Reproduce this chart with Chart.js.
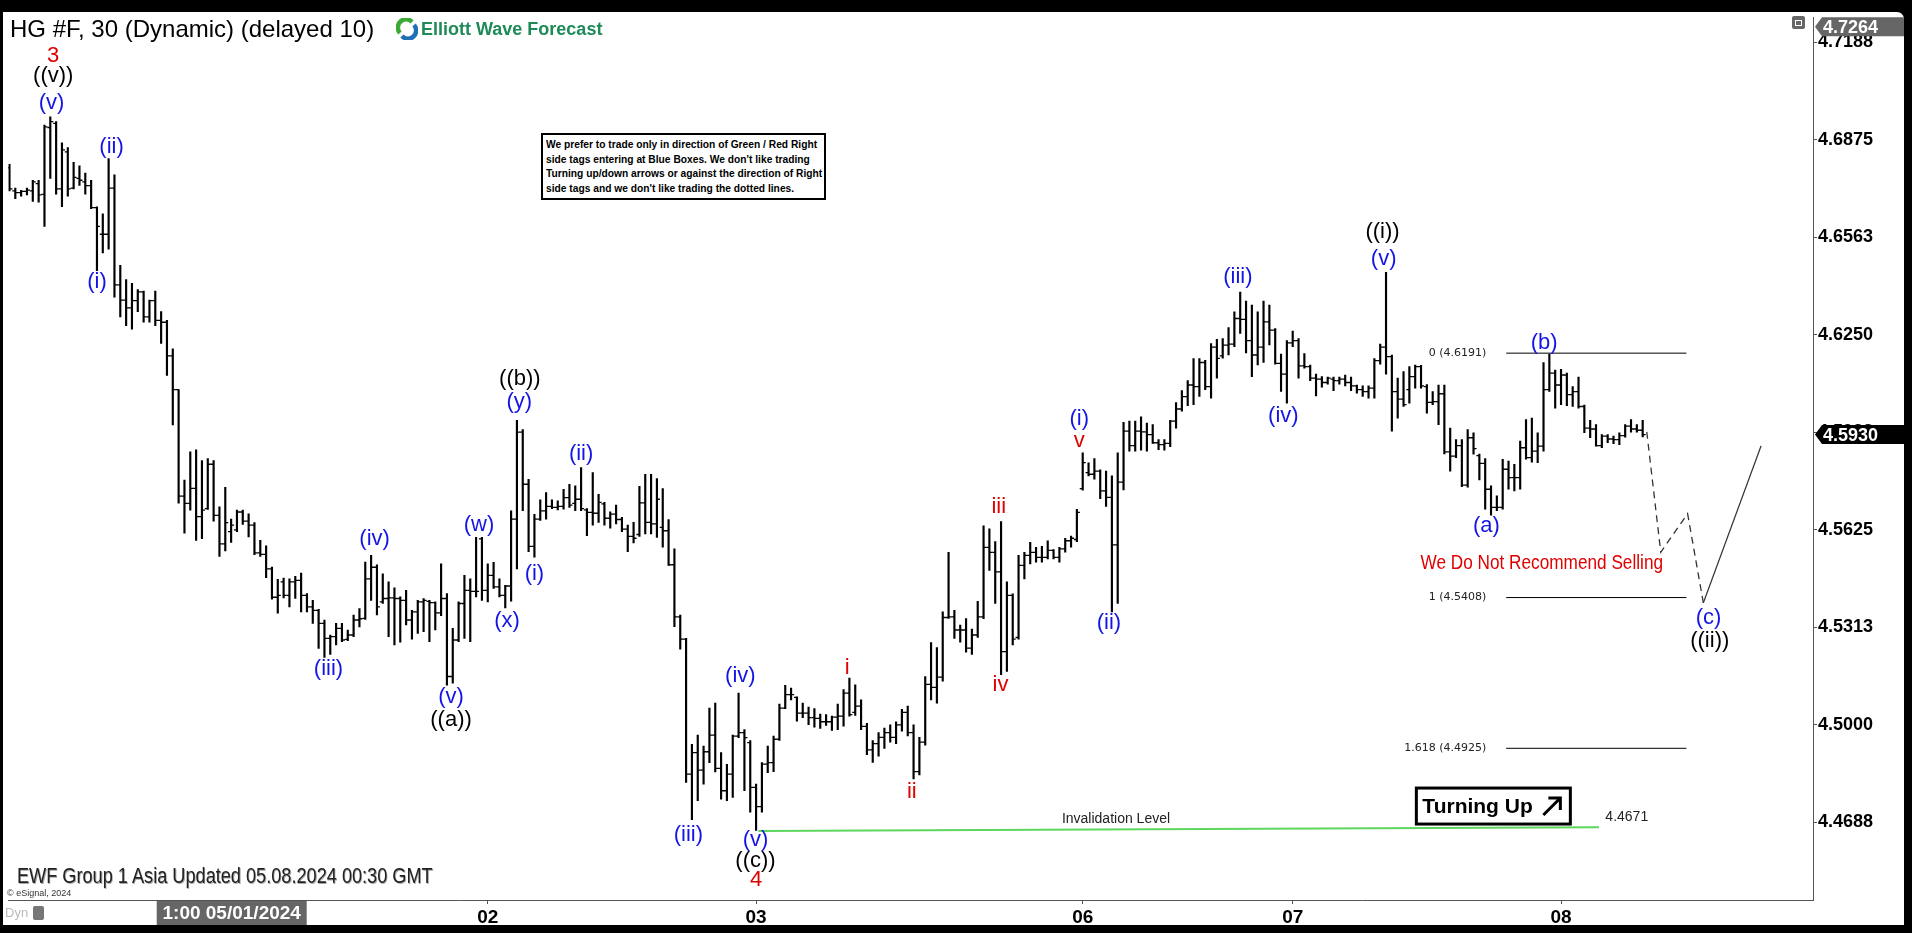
<!DOCTYPE html>
<html>
<head>
<meta charset="utf-8">
<script src="https://cdn.jsdelivr.net/npm/chart.js@4.4.1/dist/chart.umd.min.js"></script>
<style>
  html, body { margin: 0; padding: 0; background: #000; }
  body { width: 1912px; height: 933px; position: relative; overflow: hidden; font-family: "Liberation Sans", Arial, sans-serif; }
  #panel { position: absolute; left: 3px; top: 12px; width: 1901px; height: 913px; background: #fff; border-radius: 0 7px 0 0; overflow: hidden; }
  #price-chart { position: absolute; left: 0; top: 0; }
  .ov { position: absolute; white-space: nowrap; }
  .narrow { display: inline-block; transform-origin: 0 0; }
  #title { left: 7px; top: 3px; font-size: 24px; color: #000; }
  #logo { left: 393px; top: 6px; width: 22px; height: 22px; }
  #brand { left: 418px; top: 7px; font-size: 18px; font-weight: bold; color: #1e8a57; }
  #note { left: 538px; top: 121px; width: 275px; height: 59px; border: 2px solid #000; background: #fff;
          padding: 2px 3px; font: bold 11.5px/14.5px "Liberation Sans", Arial, sans-serif; color: #000; overflow: hidden; }
  #note .narrow { transform: scaleX(0.89); }
  #footer { left: 14px; top: 851px; font-size: 22px; color: #222; text-shadow: 1px 1px 0 #aaa; }
  #footer .narrow { transform: scaleX(0.825); }
  #copy { left: 4px; top: 876px; font-size: 9px; color: #333; }
  #dyn { left: 2px; top: 893px; font-size: 13px; color: #bbb; }
  #lock { left: 30px; top: 894px; width: 11px; height: 14px; background: #777; border-radius: 2px; }
  #restore { left: 1789px; top: 4px; width: 13px; height: 13px; background: #666; border-radius: 2px; }
  #restore:after { content: ""; position: absolute; left: 3px; top: 4px; width: 5px; height: 4px; border: 1px solid #fff; }
</style>
</head>
<body>
<div id="panel">
  <canvas id="price-chart" width="1901" height="913"></canvas>
  <div class="ov" id="title">HG #F, 30 (Dynamic) (delayed 10)</div>
  <svg class="ov" id="logo" viewBox="0 0 22 22">
    <path d="M4 15 A8 8 0 0 1 16 4" stroke="#3aa935" stroke-width="4.5" fill="none"/>
    <path d="M18 7 A8 8 0 0 1 6 18" stroke="#1f6fb5" stroke-width="4.5" fill="none"/>
  </svg>
  <div class="ov" id="brand">Elliott Wave Forecast</div>
  <div class="ov" id="note"><span class="narrow">We prefer to trade only in direction of Green / Red Right<br>side tags entering at Blue Boxes. We don't like trading<br>Turning up/down arrows or against the direction of Right<br>side tags and we don't like trading the dotted lines.</span></div>
  <div class="ov" id="footer"><span class="narrow">EWF Group 1 Asia Updated 05.08.2024 00:30 GMT</span></div>
  <div class="ov" id="copy">© eSignal, 2024</div>
  <div class="ov" id="dyn">Dyn</div>
  <div class="ov" id="lock"></div>
  <div class="ov" id="restore"></div>
</div>
<script>
// HG #F 30 min bars, 30 Apr 06:00 -> 08 May 07:30 (GMT+8)
const opens = [
  4.6785, 4.6711, 4.6705, 4.6709, 4.6711, 4.6734, 4.6700, 4.6914, 4.6927, 4.6717,
  4.6836, 4.6720, 4.6751, 4.6740, 4.6728, 4.6657, 4.6572, 4.6572, 4.6720, 4.6410,
  4.6361, 4.6336, 4.6359, 4.6387, 4.6307, 4.6359, 4.6296, 4.6290, 4.6182, 4.6074,
  4.5733, 4.5710, 4.5758, 4.5667, 4.5693, 4.5835, 4.5671, 4.5580, 4.5619, 4.5625,
  4.5682, 4.5653, 4.5640, 4.5551, 4.5546, 4.5500, 4.5409, 4.5458, 4.5415, 4.5458,
  4.5463, 4.5415, 4.5378, 4.5367, 4.5325, 4.5277, 4.5283, 4.5309, 4.5274, 4.5288,
  4.5336, 4.5341, 4.5468, 4.5505, 4.5394, 4.5405, 4.5407, 4.5405, 4.5399, 4.5336,
  4.5362, 4.5394, 4.5396, 4.5392, 4.5359, 4.5405, 4.5155, 4.5272, 4.5389, 4.5431,
  4.5428, 4.5596, 4.5431, 4.5479, 4.5442, 4.5415, 4.5445, 4.5659, 4.5938, 4.5771,
  4.5572, 4.5659, 4.5686, 4.5700, 4.5697, 4.5700, 4.5728, 4.5710, 4.5723, 4.5689,
  4.5681, 4.5678, 4.5708, 4.5662, 4.5675, 4.5658, 4.5627, 4.5604, 4.5610, 4.5711,
  4.5649, 4.5644, 4.5633, 4.5622, 4.5513, 4.5346, 4.5275, 4.4842, 4.4911, 4.4855,
  4.4914, 4.4967, 4.4861, 4.4789, 4.4842, 4.4964, 4.4975, 4.4943, 4.4800, 4.4738,
  4.4874, 4.4879, 4.4954, 4.5054, 4.5097, 4.5088, 4.5038, 4.5038, 4.5023, 4.5021,
  4.5010, 4.5010, 4.5025, 4.5028, 4.5102, 4.5040, 4.5060, 4.4995, 4.4920, 4.4940,
  4.4960, 4.4975, 4.4960, 4.5000, 4.5040, 4.4975, 4.4850, 4.4945, 4.5130, 4.5120,
  4.5153, 4.5344, 4.5346, 4.5304, 4.5304, 4.5246, 4.5288, 4.5346, 4.5569, 4.5553,
  4.5490, 4.5235, 4.5415, 4.5280, 4.5511, 4.5543, 4.5553, 4.5537, 4.5537, 4.5559,
  4.5537, 4.5564, 4.5590, 4.5594, 4.5757, 4.5808, 4.5803, 4.5813, 4.5750, 4.5729,
  4.5577, 4.5778, 4.5941, 4.5895, 4.5941, 4.5939, 4.5930, 4.5904, 4.5898, 4.5902,
  4.5973, 4.6012, 4.6052, 4.6089, 4.6084, 4.6161, 4.6084, 4.6210, 4.6182, 4.6217,
  4.6220, 4.6302, 4.6299, 4.6231, 4.6185, 4.6210, 4.6291, 4.6265, 4.6158, 4.6124,
  4.6224, 4.6231, 4.6150, 4.6148, 4.6111, 4.6108, 4.6097, 4.6108, 4.6103, 4.6108,
  4.6097, 4.6086, 4.6074, 4.6068, 4.6079, 4.6167, 4.6210, 4.6180, 4.6068, 4.6044,
  4.6074, 4.6116, 4.6148, 4.6084, 4.6033, 4.6036, 4.6061, 4.5875, 4.5861, 4.5895,
  4.5768, 4.5920, 4.5863, 4.5838, 4.5755, 4.5697, 4.5697, 4.5819, 4.5792, 4.5792,
  4.5888, 4.5856, 4.5877, 4.5893, 4.6074, 4.6127, 4.6089, 4.6121, 4.6058, 4.6068,
  4.6020, 4.5951, 4.5948, 4.5895, 4.5925, 4.5916, 4.5914, 4.5927, 4.5957, 4.5948,
  4.5944
];
const highs = [
  4.6796, 4.6720, 4.6713, 4.6720, 4.6745, 4.6745, 4.6922, 4.6948, 4.6933, 4.6865,
  4.6850, 4.6802, 4.6791, 4.6768, 4.6745, 4.6660, 4.6637, 4.6814, 4.6762, 4.6472,
  4.6427, 4.6415, 4.6395, 4.6390, 4.6361, 4.6390, 4.6324, 4.6296, 4.6205, 4.6074,
  4.5784, 4.5875, 4.5881, 4.5847, 4.5853, 4.5847, 4.5699, 4.5761, 4.5659, 4.5688,
  4.5688, 4.5676, 4.5648, 4.5591, 4.5574, 4.5506, 4.5466, 4.5470, 4.5468, 4.5476,
  4.5486, 4.5421, 4.5399, 4.5370, 4.5336, 4.5288, 4.5325, 4.5325, 4.5304, 4.5352,
  4.5373, 4.5522, 4.5543, 4.5513, 4.5484, 4.5458, 4.5439, 4.5410, 4.5431, 4.5367,
  4.5399, 4.5405, 4.5399, 4.5394, 4.5516, 4.5421, 4.5309, 4.5394, 4.5479, 4.5468,
  4.5601, 4.5601, 4.5516, 4.5521, 4.5468, 4.5447, 4.5686, 4.5976, 4.5946, 4.5787,
  4.5675, 4.5721, 4.5744, 4.5721, 4.5718, 4.5755, 4.5771, 4.5766, 4.5824, 4.5693,
  4.5808, 4.5739, 4.5713, 4.5683, 4.5704, 4.5665, 4.5640, 4.5649, 4.5764, 4.5803,
  4.5803, 4.5789, 4.5757, 4.5658, 4.5564, 4.5352, 4.5277, 4.4938, 4.4967, 4.4932,
  4.5054, 4.5070, 4.4911, 4.4874, 4.4967, 4.5102, 4.4985, 4.4950, 4.4810, 4.4879,
  4.4932, 4.4964, 4.5067, 4.5127, 4.5118, 4.5090, 4.5070, 4.5057, 4.5052, 4.5035,
  4.5033, 4.5028, 4.5067, 4.5113, 4.5150, 4.5128, 4.5080, 4.5005, 4.4950, 4.4975,
  4.4990, 4.5000, 4.5010, 4.5050, 4.5060, 4.5000, 4.4960, 4.5155, 4.5264, 4.5248,
  4.5362, 4.5553, 4.5367, 4.5320, 4.5341, 4.5307, 4.5396, 4.5638, 4.5628, 4.5587,
  4.5651, 4.5458, 4.5420, 4.5543, 4.5553, 4.5585, 4.5569, 4.5572, 4.5590, 4.5562,
  4.5569, 4.5598, 4.5605, 4.5691, 4.5872, 4.5840, 4.5853, 4.5817, 4.5813, 4.5798,
  4.5872, 4.5969, 4.5973, 4.5973, 4.5987, 4.5967, 4.5962, 4.5914, 4.5914, 4.5976,
  4.6033, 4.6071, 4.6103, 4.6174, 4.6174, 4.6168, 4.6222, 4.6235, 4.6238, 4.6273,
  4.6323, 4.6387, 4.6358, 4.6345, 4.6323, 4.6358, 4.6345, 4.6270, 4.6188, 4.6231,
  4.6262, 4.6238, 4.6190, 4.6153, 4.6124, 4.6116, 4.6114, 4.6114, 4.6114, 4.6121,
  4.6114, 4.6089, 4.6086, 4.6086, 4.6174, 4.6220, 4.6450, 4.6185, 4.6111, 4.6132,
  4.6148, 4.6153, 4.6152, 4.6090, 4.6068, 4.6089, 4.6089, 4.5951, 4.5914, 4.5914,
  4.5946, 4.5936, 4.5868, 4.5853, 4.5766, 4.5734, 4.5851, 4.5845, 4.5835, 4.5909,
  4.5978, 4.5983, 4.5936, 4.6161, 4.6188, 4.6137, 4.6139, 4.6127, 4.6084, 4.6114,
  4.6025, 4.5976, 4.5962, 4.5930, 4.5930, 4.5925, 4.5936, 4.5962, 4.5978, 4.5962,
  4.5976
];
const lows = [
  4.6711, 4.6686, 4.6694, 4.6698, 4.6677, 4.6675, 4.6597, 4.6751, 4.6700, 4.6660,
  4.6694, 4.6717, 4.6728, 4.6700, 4.6654, 4.6455, 4.6512, 4.6524, 4.6370, 4.6307,
  4.6279, 4.6268, 4.6324, 4.6290, 4.6290, 4.6279, 4.6222, 4.6120, 4.5961, 4.5710,
  4.5614, 4.5688, 4.5591, 4.5597, 4.5690, 4.5653, 4.5540, 4.5557, 4.5585, 4.5619,
  4.5642, 4.5602, 4.5545, 4.5540, 4.5472, 4.5403, 4.5358, 4.5407, 4.5378, 4.5405,
  4.5362, 4.5362, 4.5325, 4.5245, 4.5216, 4.5226, 4.5256, 4.5267, 4.5270, 4.5283,
  4.5314, 4.5338, 4.5399, 4.5352, 4.5389, 4.5283, 4.5256, 4.5265, 4.5320, 4.5275,
  4.5293, 4.5299, 4.5267, 4.5304, 4.5350, 4.5127, 4.5134, 4.5267, 4.5277, 4.5267,
  4.5410, 4.5399, 4.5394, 4.5437, 4.5410, 4.5375, 4.5396, 4.5500, 4.5686, 4.5555,
  4.5537, 4.5655, 4.5659, 4.5693, 4.5689, 4.5691, 4.5697, 4.5686, 4.5686, 4.5606,
  4.5640, 4.5649, 4.5640, 4.5630, 4.5644, 4.5619, 4.5555, 4.5583, 4.5604, 4.5612,
  4.5612, 4.5601, 4.5569, 4.5511, 4.5315, 4.5243, 4.4816, 4.4696, 4.4757, 4.4810,
  4.4879, 4.4849, 4.4762, 4.4757, 4.4768, 4.4959, 4.4789, 4.4720, 4.4662, 4.4720,
  4.4847, 4.4850, 4.4950, 4.5052, 4.5080, 4.5012, 4.5023, 4.5001, 4.4993, 4.4989,
  4.4998, 4.4982, 4.4985, 4.4996, 4.5028, 4.5030, 4.4985, 4.4905, 4.4880, 4.4900,
  4.4925, 4.4945, 4.4940, 4.4980, 4.4965, 4.4827, 4.4840, 4.4935, 4.5080, 4.5070,
  4.5140, 4.5341, 4.5277, 4.5265, 4.5233, 4.5226, 4.5280, 4.5340, 4.5495, 4.5389,
  4.5161, 4.5171, 4.5256, 4.5275, 4.5468, 4.5516, 4.5521, 4.5521, 4.5532, 4.5532,
  4.5521, 4.5553, 4.5569, 4.5587, 4.5752, 4.5798, 4.5787, 4.5725, 4.5700, 4.5362,
  4.5389, 4.5753, 4.5877, 4.5877, 4.5880, 4.5877, 4.5902, 4.5882, 4.5880, 4.5891,
  4.5951, 4.6005, 4.6023, 4.6026, 4.6052, 4.6074, 4.6047, 4.6111, 4.6175, 4.6185,
  4.6212, 4.6254, 4.6192, 4.6116, 4.6153, 4.6161, 4.6217, 4.6156, 4.6068, 4.6031,
  4.6212, 4.6111, 4.6143, 4.6103, 4.6054, 4.6082, 4.6092, 4.6071, 4.6092, 4.6086,
  4.6071, 4.6063, 4.6052, 4.6047, 4.6047, 4.6156, 4.6124, 4.5941, 4.5983, 4.6020,
  4.6031, 4.6079, 4.6079, 4.5999, 4.6026, 4.5962, 4.5868, 4.5813, 4.5856, 4.5763,
  4.5762, 4.5867, 4.5785, 4.5691, 4.5672, 4.5686, 4.5691, 4.5755, 4.5750, 4.5755,
  4.5851, 4.5842, 4.5840, 4.5877, 4.6068, 4.6015, 4.6026, 4.6023, 4.6020, 4.6015,
  4.5936, 4.5920, 4.5893, 4.5888, 4.5904, 4.5901, 4.5898, 4.5922, 4.5938, 4.5938,
  4.5923
];
const closes = [
  4.6717, 4.6705, 4.6709, 4.6713, 4.6740, 4.6698, 4.6916, 4.6933, 4.6717, 4.6842,
  4.6717, 4.6754, 4.6745, 4.6728, 4.6657, 4.6597, 4.6572, 4.6720, 4.6410, 4.6361,
  4.6336, 4.6359, 4.6387, 4.6307, 4.6359, 4.6296, 4.6290, 4.6182, 4.6074, 4.5733,
  4.5710, 4.5758, 4.5667, 4.5688, 4.5835, 4.5671, 4.5580, 4.5648, 4.5640, 4.5682,
  4.5653, 4.5640, 4.5551, 4.5546, 4.5500, 4.5409, 4.5415, 4.5415, 4.5458, 4.5463,
  4.5415, 4.5378, 4.5367, 4.5325, 4.5277, 4.5283, 4.5309, 4.5272, 4.5288, 4.5336,
  4.5340, 4.5468, 4.5505, 4.5378, 4.5405, 4.5407, 4.5405, 4.5399, 4.5336, 4.5362,
  4.5394, 4.5399, 4.5392, 4.5359, 4.5405, 4.5155, 4.5272, 4.5389, 4.5431, 4.5428,
  4.5428, 4.5431, 4.5479, 4.5442, 4.5415, 4.5445, 4.5659, 4.5938, 4.5771, 4.5572,
  4.5659, 4.5686, 4.5700, 4.5697, 4.5700, 4.5728, 4.5704, 4.5723, 4.5693, 4.5681,
  4.5678, 4.5713, 4.5662, 4.5675, 4.5658, 4.5627, 4.5604, 4.5598, 4.5711, 4.5649,
  4.5644, 4.5723, 4.5622, 4.5513, 4.5346, 4.5275, 4.4842, 4.4911, 4.4855, 4.4914,
  4.4967, 4.4861, 4.4789, 4.4842, 4.4964, 4.4975, 4.4959, 4.4800, 4.4738, 4.4874,
  4.4879, 4.4954, 4.5054, 4.5097, 4.5097, 4.5038, 4.5038, 4.5023, 4.5021, 4.5010,
  4.5010, 4.5025, 4.5028, 4.5102, 4.5033, 4.5060, 4.4995, 4.4920, 4.4940, 4.4960,
  4.4975, 4.4960, 4.5000, 4.5040, 4.4975, 4.4850, 4.4945, 4.5130, 4.5120, 4.5153,
  4.5344, 4.5346, 4.5304, 4.5304, 4.5246, 4.5288, 4.5346, 4.5569, 4.5553, 4.5490,
  4.5235, 4.5415, 4.5275, 4.5511, 4.5543, 4.5553, 4.5537, 4.5537, 4.5559, 4.5537,
  4.5564, 4.5590, 4.5598, 4.5681, 4.5840, 4.5803, 4.5813, 4.5750, 4.5729, 4.5577,
  4.5778, 4.5941, 4.5895, 4.5941, 4.5939, 4.5930, 4.5904, 4.5898, 4.5902, 4.5973,
  4.6012, 4.6052, 4.6089, 4.6084, 4.6161, 4.6084, 4.6210, 4.6174, 4.6217, 4.6220,
  4.6302, 4.6299, 4.6231, 4.6185, 4.6210, 4.6291, 4.6265, 4.6158, 4.6124, 4.6224,
  4.6231, 4.6150, 4.6148, 4.6111, 4.6108, 4.6097, 4.6111, 4.6103, 4.6108, 4.6097,
  4.6086, 4.6074, 4.6068, 4.6079, 4.6167, 4.6210, 4.6180, 4.6068, 4.6044, 4.6026,
  4.6116, 4.6148, 4.6086, 4.6033, 4.6036, 4.6061, 4.5875, 4.5861, 4.5895, 4.5768,
  4.5920, 4.5885, 4.5838, 4.5755, 4.5697, 4.5697, 4.5819, 4.5792, 4.5792, 4.5888,
  4.5856, 4.5877, 4.5893, 4.6074, 4.6127, 4.6089, 4.6121, 4.6058, 4.6068, 4.6020,
  4.5951, 4.5948, 4.5895, 4.5925, 4.5916, 4.5914, 4.5927, 4.5957, 4.5948, 4.5944,
  4.5930
];

// axis ticks
const yTickValues = [4.46875, 4.5, 4.53125, 4.5625, 4.59375, 4.625, 4.65625, 4.6875, 4.71875];
const dayTickPos = [82, 128, 184, 220, 266];
const dayTickLabels = ['02', '03', '06', '07', '08'];
const yMin = 4.4439, yMax = 4.7267;
const xMin = -0.2, xMax = 309.2;
const sessionHigh = 4.7264;

// projected path (dashed correction then solid rally)
const projX = [280.7, 283.1, 287.7, 290.4, 300.3];
const projY = [4.5939, 4.5553, 4.5677, 4.5391, 4.5894];

// fibonacci extension of (a)-(b)
const fibLevels = [4.6191, 4.5408, 4.4925];
const fibNames = ['0 (4.6191)', '1 (4.5408)', '1.618 (4.4925)'];
const fibStart = 256.6, fibEnd = 287.5;

// invalidation level
const invalX = [128.4, 272.5];
const invalY = [4.4660, 4.4672];

// wave labels
const waveText = ['3', '((v))', '(v)', '(ii)', '(i)', '(iii)', '(iv)', '(v)', '((a))', '(w)',
  '(x)', '(y)', '((b))', '(i)', '(ii)', '(iii)', '(iv)', '(v)', '((c))', '4',
  'i', 'ii', 'iii', 'iv', 'v', '(i)', '(ii)', '(iii)', '(iv)', '(v)',
  '((i))', '(a)', '(b)', '(c)', '((ii))'];
const waveX = [7.5, 7.5, 7.2, 17.5, 15.0, 54.7, 62.6, 75.7, 75.7, 80.5,
  85.3, 87.4, 87.5, 90.0, 98.0, 116.4, 125.3, 127.9, 127.9, 128.0,
  143.6, 154.7, 169.6, 169.9, 183.4, 183.4, 188.5, 210.6, 218.4, 235.6,
  235.4, 253.2, 263.1, 291.3, 291.5];
const waveY = [4.7143, 4.7079, 4.6994, 4.6852, 4.6420, 4.5178, 4.5596, 4.5088, 4.5015, 4.5640,
  4.5334, 4.6035, 4.6108, 4.5483, 4.5869, 4.4646, 4.5158, 4.4630, 4.4563, 4.4502,
  4.5184, 4.4786, 4.5697, 4.5127, 4.5910, 4.5980, 4.5327, 4.6436, 4.5990, 4.6494,
  4.6580, 4.5636, 4.6225, 4.5343, 4.5270];
const waveColor = ['r', 'k', 'b', 'b', 'b', 'b', 'b', 'b', 'k', 'b',
  'b', 'b', 'k', 'b', 'b', 'b', 'b', 'b', 'k', 'r',
  'r', 'r', 'r', 'r', 'r', 'b', 'b', 'b', 'b', 'b',
  'k', 'b', 'b', 'b', 'k'];
const colorMap = { r: '#e00000', b: '#1414e6', k: '#000' };

const SANS = '"Liberation Sans", Arial, sans-serif';

// squeeze text horizontally (the original uses a narrow face)
function narrowText(ctx, text, x, y, sx) {
  ctx.save();
  ctx.translate(x, y);
  ctx.scale(sx, 1);
  ctx.fillText(text, 0, 0);
  ctx.restore();
}

// Draw wave labels, notes, price boxes on top of the datasets
const annotations = {
  id: 'annotations',
  afterDatasetsDraw(chart) {
    const { ctx, scales: { x, y } } = chart;
    ctx.save();
    ctx.textAlign = 'center';
    ctx.textBaseline = 'middle';
    ctx.font = '22px ' + SANS;
    waveText.forEach((t, i) => {
      ctx.fillStyle = colorMap[waveColor[i]];
      ctx.fillText(t, x.getPixelForValue(waveX[i]), y.getPixelForValue(waveY[i]));
    });

    // fib level captions
    ctx.font = '11px "DejaVu Sans", sans-serif';
    ctx.fillStyle = '#222';
    ctx.textAlign = 'right';
    fibLevels.forEach((v, i) => {
      ctx.fillText(fibNames[i], x.getPixelForValue(253.2), y.getPixelForValue(v));
    });

    // invalidation captions
    ctx.font = '14px ' + SANS;
    ctx.textAlign = 'center';
    ctx.fillText('Invalidation Level', x.getPixelForValue(189.7), y.getPixelForValue(4.4697));
    ctx.textAlign = 'left';
    ctx.fillText('4.4671', x.getPixelForValue(273.6), y.getPixelForValue(4.4703));

    // warning text
    ctx.font = '20px ' + SANS;
    ctx.fillStyle = '#e00000';
    ctx.textAlign = 'center';
    narrowText(ctx, 'We Do Not Recommend Selling', x.getPixelForValue(262.7), y.getPixelForValue(4.5518), 0.86);

    // Turning Up box
    const bx = x.getPixelForValue(254.4), by = y.getPixelForValue(4.4740);
    ctx.fillStyle = '#fff';
    ctx.fillRect(bx - 77, by - 18, 154, 36);
    ctx.lineWidth = 3;
    ctx.strokeStyle = '#000';
    ctx.strokeRect(bx - 77, by - 18, 154, 36);
    ctx.fillStyle = '#000';
    ctx.font = 'bold 21px ' + SANS;
    ctx.textAlign = 'left';
    ctx.fillText('Turning Up', bx - 71, by + 1);
    ctx.lineWidth = 3;
    ctx.beginPath();
    ctx.moveTo(bx + 50, by + 9);
    ctx.lineTo(bx + 66, by - 7);
    ctx.moveTo(bx + 55, by - 8);
    ctx.lineTo(bx + 67, by - 8);
    ctx.lineTo(bx + 67, by + 4);
    ctx.stroke();
    ctx.restore();
  },
  afterDraw(chart) {
    const { ctx, chartArea, scales: { x, y } } = chart;
    ctx.save();
    const left = chartArea.right + 2, right = chart.width;
    const tag = (val, cy, bg) => {
      ctx.fillStyle = bg;
      ctx.beginPath();
      ctx.moveTo(left, cy);
      ctx.lineTo(left + 7, cy - 9.5);
      ctx.lineTo(right, cy - 9.5);
      ctx.lineTo(right, cy + 9.5);
      ctx.lineTo(left + 7, cy + 9.5);
      ctx.closePath();
      ctx.fill();
      ctx.fillStyle = '#fff';
      ctx.font = 'bold 18px ' + SANS;
      ctx.textAlign = 'left';
      ctx.textBaseline = 'middle';
      ctx.fillText(val.toFixed(4), left + 8, cy + 1);
    };
    tag(sessionHigh, Math.max(y.getPixelForValue(sessionHigh), chartArea.top + 9.5), '#666');
    tag(closes[closes.length - 1], y.getPixelForValue(closes[closes.length - 1]), '#000');

    // crosshair time label on the time axis
    const cx = x.getPixelForValue(38.1);
    ctx.fillStyle = '#666';
    ctx.fillRect(cx - 75, chartArea.bottom + 1, 150, 24);
    ctx.fillStyle = '#fff';
    ctx.font = 'bold 19px ' + SANS;
    ctx.textAlign = 'center';
    ctx.textBaseline = 'middle';
    ctx.fillText('1:00 05/01/2024', cx, chartArea.bottom + 14);
    ctx.restore();
  }
};

const ctx = document.getElementById('price-chart').getContext('2d');
new Chart(ctx, {
  type: 'bar',
  data: {
    datasets: [{
      type: 'bar',
      label: 'High-Low',
      data: lows.map((l, i) => ({ x: i, y: [l, highs[i]] })),
      backgroundColor: '#000',
      barThickness: 1.5,
      grouped: false,
      order: 5
    }, {
      type: 'scatter',
      label: 'Open',
      data: opens.map((o, i) => ({ x: i, y: o })),
      pointStyle: 'dash',
      pointRotation: 180,
      pointRadius: 3,
      pointBorderColor: '#000',
      pointBorderWidth: 1.3,
      order: 4
    }, {
      type: 'scatter',
      label: 'Close',
      data: closes.map((c, i) => ({ x: i, y: c })),
      pointStyle: 'dash',
      pointRotation: 0,
      pointRadius: 3,
      pointBorderColor: '#000',
      pointBorderWidth: 1.3,
      order: 4
    }, {
      type: 'line',
      label: 'Projection',
      data: projX.map((px, i) => ({ x: px, y: projY[i] })),
      borderColor: '#333',
      borderWidth: 1.3,
      pointRadius: 0,
      segment: { borderDash: c => c.p0DataIndex < 3 ? [7, 5] : undefined },
      order: 3
    }, ...fibLevels.map(v => ({
      type: 'line',
      label: 'Fib',
      data: [{ x: fibStart, y: v }, { x: fibEnd, y: v }],
      borderColor: '#000',
      borderWidth: 1,
      pointRadius: 0,
      order: 3
    })), {
      type: 'line',
      label: 'Invalidation',
      data: invalX.map((px, i) => ({ x: px, y: invalY[i] })),
      borderColor: '#5cd65c',
      borderWidth: 2,
      pointRadius: 0,
      order: 3
    }]
  },
  options: {
    responsive: false,
    animation: false,
    layout: { padding: 0 },
    plugins: { legend: { display: false }, tooltip: { enabled: false } },
    scales: {
      x: {
        type: 'linear',
        min: xMin,
        max: xMax,
        offset: false,
        afterFit: s => { s.height = 25; s.paddingLeft = 0; s.paddingRight = 0; },
        afterBuildTicks: s => { s.ticks = dayTickPos.map(v => ({ value: v })); },
        ticks: {
          autoSkip: false,
          maxRotation: 0,
          padding: 2,
          color: '#000',
          font: { family: SANS, size: 19, weight: 'bold' },
          callback: v => dayTickLabels[dayTickPos.indexOf(v)]
        },
        grid: { drawOnChartArea: false, offset: false, tickLength: 4, color: '#555' },
        border: { color: '#555' }
      },
      y: {
        position: 'right',
        min: yMin,
        max: yMax,
        afterFit: s => { s.width = 91; s.paddingTop = 0; s.paddingBottom = 0; },
        afterBuildTicks: s => { s.ticks = yTickValues.map(v => ({ value: v })); },
        ticks: {
          padding: 1,
          color: '#000',
          font: { family: SANS, size: 18, weight: 'bold' },
          callback: v => v.toFixed(4)
        },
        grid: { drawOnChartArea: false, tickLength: 4, color: '#555' },
        border: { color: '#555' }
      }
    }
  },
  plugins: [annotations]
});
</script>
</body>
</html>
